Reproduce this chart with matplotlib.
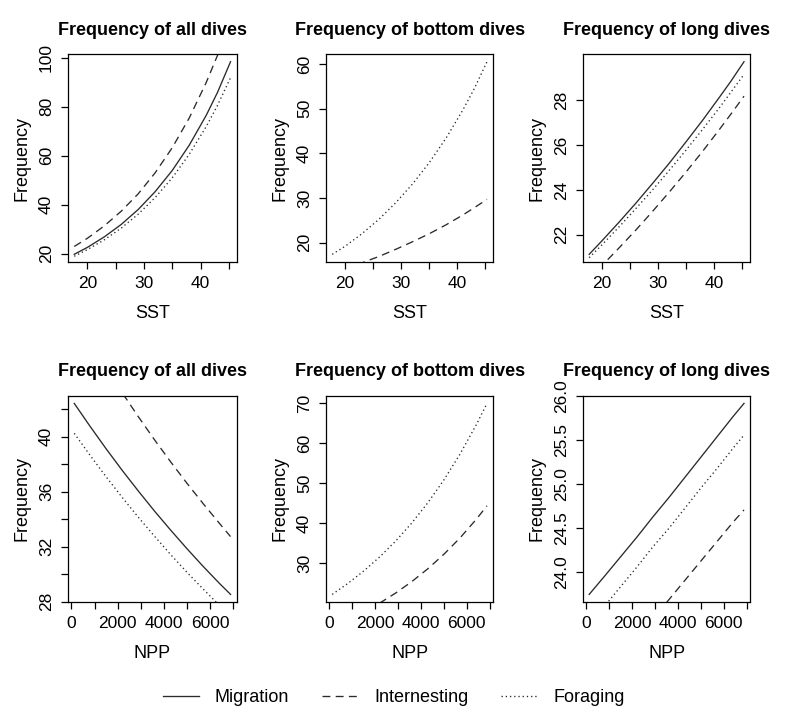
import matplotlib
matplotlib.use('Agg')
from matplotlib import pyplot as plt
from matplotlib.lines import Line2D

plt.rcParams['font.family'] = 'Liberation Sans'

# predicted dive frequency vs sea surface temperature
sst = [17.7, 20, 23, 26, 29, 32, 35, 38, 41, 43, 45.3]
all_sst_mig = [19.8, 22.6, 26.9, 32.0, 38.1, 45.4, 54.0, 64.3, 76.5, 85.9, 98.4]
all_sst_int = [23.0, 26.3, 31.4, 37.4, 44.5, 53.1, 63.3, 75.4, 89.9, 101.0, 115.8]
all_sst_for = [19.0, 21.7, 25.7, 30.5, 36.2, 43.0, 51.0, 60.6, 71.9, 80.6, 91.9]
bottom_sst_int = [13.3, 14.2, 15.5, 16.9, 18.5, 20.2, 22.0, 24.0, 26.2, 27.8, 29.7]
bottom_sst_for = [17.4, 19.2, 22.0, 25.2, 28.9, 33.1, 37.9, 43.4, 49.7, 54.4, 60.5]
long_sst_mig = [21.12, 21.73, 22.55, 23.40, 24.29, 25.20, 26.16, 27.14, 28.17, 28.87, 29.73]
long_sst_int = [20.04, 20.62, 21.40, 22.20, 23.04, 23.91, 24.81, 25.75, 26.73, 27.40, 28.19]
long_sst_for = [20.97, 21.55, 22.34, 23.16, 24.00, 24.88, 25.79, 26.73, 27.70, 28.38, 29.16]

# predicted dive frequency vs net primary productivity
npp = [120, 800, 1500, 2200, 2900, 3600, 4300, 5000, 5700, 6400, 6880]
all_npp_mig = [42.43, 40.77, 39.12, 37.54, 36.03, 34.57, 33.18, 31.84, 30.55, 29.32, 28.52]
all_npp_int = [48.84, 46.92, 45.01, 43.19, 41.44, 39.76, 38.15, 36.60, 35.12, 33.69, 32.73]
all_npp_for = [40.25, 38.66, 37.08, 35.57, 34.12, 32.74, 31.40, 30.12, 28.90, 27.72, 26.92]
bottom_npp_int = [14.06, 15.78, 17.77, 20.02, 22.54, 25.39, 28.59, 32.21, 36.27, 40.86, 44.32]
bottom_npp_for = [22.17, 24.89, 28.03, 31.57, 35.55, 40.05, 45.10, 50.80, 57.21, 64.44, 69.90]
long_npp_mig = [23.75, 23.96, 24.18, 24.40, 24.63, 24.85, 25.08, 25.31, 25.54, 25.77, 25.92]
long_npp_int = [22.64, 22.84, 23.05, 23.26, 23.48, 23.69, 23.91, 24.13, 24.35, 24.57, 24.71]
long_npp_for = [23.42, 23.62, 23.84, 24.06, 24.29, 24.50, 24.73, 24.96, 25.18, 25.41, 25.56]

titles = ['Frequency of all dives', 'Frequency of bottom dives', 'Frequency of long dives']
legend_labels = ['Migration', 'Internesting', 'Foraging']

LC = '#2a2a2a'
styles = {
    'mig': dict(color=LC, lw=0.95, linestyle='-'),
    'int': dict(color=LC, lw=0.95, linestyle=(0, (6, 4))),
    'for': dict(color=LC, lw=0.95, linestyle=(0, (1, 2.2))),
}


def r_range(vals):
    # R style axis range: data range plus 4% on each side
    lo, hi = min(vals), max(vals)
    pad = 0.04 * (hi - lo)
    return lo - pad, hi + pad


def panel(ax, x, curves, ref, title, xlabel, xticks, xticklabels, yticks, yticklabels):
    for key, y in curves:
        ax.plot(x, y, **styles[key])
    ax.set_xlim(*r_range(x))
    ax.set_ylim(*r_range(ref))
    ax.set_title(title, fontsize=13, fontweight='bold', pad=14)
    ax.set_xlabel(xlabel, fontsize=13, labelpad=10)
    ax.set_ylabel('Frequency', fontsize=13, labelpad=6)
    ax.set_xticks(xticks)
    ax.set_xticklabels(xticklabels, fontsize=12.5)
    ax.set_yticks(yticks)
    ax.set_yticklabels(yticklabels, fontsize=12.5, rotation=90, va='center')
    ax.tick_params(direction='out', length=5, width=0.9, pad=5)
    for s in ax.spines.values():
        s.set_linewidth(0.9)


fig = plt.figure(figsize=(8, 7.21), dpi=100)

lefts = [0.085, 0.4075, 0.72875]
widths = [0.211, 0.209, 0.209]
axs_top = [fig.add_axes([lefts[i], 0.6366, widths[i], 0.2885]) for i in range(3)]
axs_bot = [fig.add_axes([lefts[i], 0.165, widths[i], 0.2861]) for i in range(3)]

sst_ticks = [20, 25, 30, 35, 40, 45]
sst_labels = ['20', '', '30', '', '40', '']
npp_ticks = [0, 1000, 2000, 3000, 4000, 5000, 6000, 7000]
npp_labels = ['0', '', '2000', '', '4000', '', '6000', '']

panel(axs_top[0], sst, [('mig', all_sst_mig), ('int', all_sst_int), ('for', all_sst_for)],
      all_sst_mig, titles[0], 'SST', sst_ticks, sst_labels,
      [20, 40, 60, 80, 100], ['20', '40', '60', '80', '100'])
panel(axs_top[1], sst, [('int', bottom_sst_int), ('for', bottom_sst_for)],
      bottom_sst_for, titles[1], 'SST', sst_ticks, sst_labels,
      [20, 30, 40, 50, 60], ['20', '30', '40', '50', '60'])
panel(axs_top[2], sst, [('mig', long_sst_mig), ('int', long_sst_int), ('for', long_sst_for)],
      long_sst_mig, titles[2], 'SST', sst_ticks, sst_labels,
      [22, 24, 26, 28], ['22', '24', '26', '28'])

panel(axs_bot[0], npp, [('mig', all_npp_mig), ('int', all_npp_int), ('for', all_npp_for)],
      all_npp_mig, titles[0], 'NPP', npp_ticks, npp_labels,
      [28, 30, 32, 34, 36, 38, 40, 42], ['28', '', '32', '', '36', '', '40', ''])
panel(axs_bot[1], npp, [('int', bottom_npp_int), ('for', bottom_npp_for)],
      bottom_npp_for, titles[1], 'NPP', npp_ticks, npp_labels,
      [30, 40, 50, 60, 70], ['30', '40', '50', '60', '70'])
panel(axs_bot[2], npp, [('mig', long_npp_mig), ('int', long_npp_int), ('for', long_npp_for)],
      long_npp_mig, titles[2], 'NPP', npp_ticks, npp_labels,
      [24.0, 24.5, 25.0, 25.5, 26.0], ['24.0', '24.5', '25.0', '25.5', '26.0'])

handles = [Line2D([], [], **styles[k]) for k in ['mig', 'int', 'for']]
fig.legend(handles, legend_labels, loc='center', bbox_to_anchor=(0.492, 1 - 698 / 721),
           ncol=3, frameon=False, fontsize=13, handlelength=2.0, handletextpad=0.9,
           columnspacing=1.8)

fig.savefig('out.png', dpi=100)
